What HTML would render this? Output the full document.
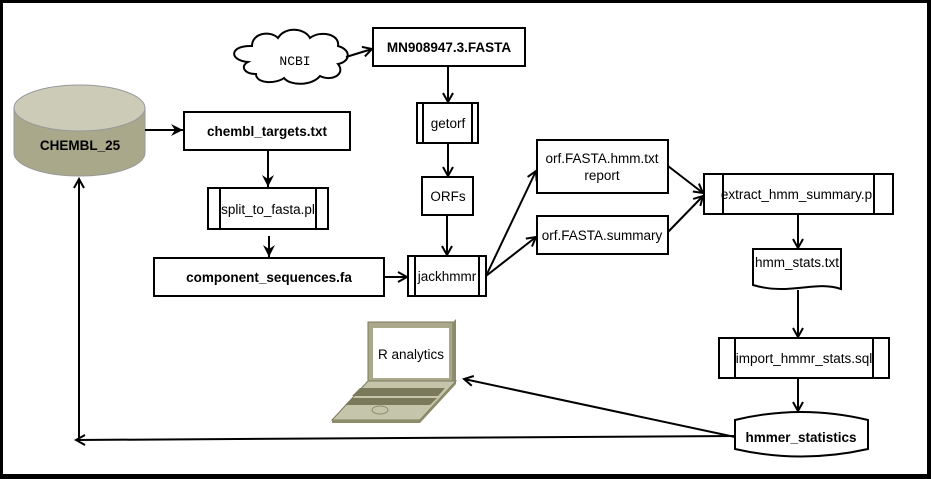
<!DOCTYPE html>
<html><head><meta charset="utf-8"><style>
html,body{margin:0;padding:0;background:#fff}
svg{display:block}
text{font-family:"Liberation Sans",sans-serif;font-size:13.5px;fill:#000}
.b{font-weight:bold;font-size:13.5px}
</style></head><body>
<svg width="931" height="479" viewBox="0 0 931 479" xmlns="http://www.w3.org/2000/svg">
<defs>
<marker id="a" markerWidth="12" markerHeight="12" refX="10" refY="6" orient="auto" markerUnits="userSpaceOnUse">
<path d="M1,1 L10,6 L1,11" fill="none" stroke="#000" stroke-width="2"/>
</marker>
<marker id="f" markerWidth="14" markerHeight="14" refX="12" refY="7" orient="auto" markerUnits="userSpaceOnUse">
<path d="M0,1 L12,7 L0,13 L4,7 Z" fill="#000"/>
</marker>
</defs>
<rect x="1.5" y="1.5" width="927" height="474" fill="#fff" stroke="#000" stroke-width="3"/>
<rect x="0" y="475" width="931" height="4" fill="#000"/>
<rect x="927" y="0" width="4" height="479" fill="#000"/>

<g fill="#fff" stroke="#000" stroke-width="2">
<path d="M248,62 C228,60 230,45 252,46 C252,33 270,30 278,38 C285,26 305,28 310,38 C320,30 340,34 338,46 C352,50 350,62 338,64 C346,74 332,82 320,76 C312,86 290,86 284,78 C276,84 256,84 256,74 C244,74 240,66 248,62 Z"/>
<rect x="373" y="28" width="152" height="38"/>
<rect x="417" y="103" width="61" height="40"/>
<rect x="422" y="177" width="51" height="38"/>
<rect x="408" y="256" width="78" height="40"/>
<rect x="184" y="112" width="166" height="38"/>
<rect x="208" y="188" width="120" height="41"/>
<rect x="154" y="258" width="230" height="38"/>
<rect x="537" y="140" width="131" height="53"/>
<rect x="537" y="216" width="131" height="38"/>
<rect x="704" y="174" width="189" height="40"/>
<path d="M753,249 H841 V289 C815,280 790,296 753,285 Z"/>
<rect x="719" y="338" width="170" height="40"/>
<path d="M735,420 Q801,404 868,420 V449 Q801,464 735,449 Z"/>
</g>
<g stroke="#000" stroke-width="2">
<line x1="423" y1="103" x2="423" y2="143"/><line x1="472" y1="103" x2="472" y2="143"/>
<line x1="415" y1="256" x2="415" y2="296"/><line x1="479" y1="256" x2="479" y2="296"/>
<line x1="220" y1="188" x2="220" y2="229"/><line x1="316" y1="188" x2="316" y2="229"/>
<line x1="723" y1="174" x2="723" y2="214"/><line x1="874" y1="174" x2="874" y2="214"/>
<line x1="735" y1="338" x2="735" y2="378"/><line x1="873" y1="338" x2="873" y2="378"/>
</g>

<path d="M14,108 V153 A65.5,23 0 0 0 145,153 V108 Z" fill="#a9a88a" stroke="#999" stroke-width="1"/>
<ellipse cx="79.5" cy="108" rx="65.5" ry="23" fill="#cbcbb8" stroke="#999" stroke-width="1"/>

<path d="M368,381 L456,381 L420,420 L332,420 Z" fill="#c5c5ac" stroke="#7a7a5a" stroke-width="1"/>
<path d="M332,420 L420,420 L420,423 L332,423 Z M420,420 L456,381 L456,384 L420,423 Z" fill="#8c8c6a"/>
<path d="M360,388 L445,388 L438,396 L352,396 Z M352,398 L437,398 L430,405 L345,405 Z" fill="#7a7a5a"/>
<ellipse cx="380" cy="410" rx="8" ry="4" fill="none" stroke="#8c8c6a"/>
<rect x="368" y="322" width="85" height="59" fill="#a9a88a" stroke="#7a7a5a"/>
<path d="M453,322 L456,319 L456,381 L453,381 Z" fill="#8c8c6a"/>
<rect x="373" y="328" width="76" height="50" fill="#fff"/>

<g stroke="#000" stroke-width="2" fill="none" marker-end="url(#a)">
<line x1="346" y1="57" x2="372" y2="49"/>
<line x1="448" y1="66" x2="448" y2="102"/>
<line x1="448" y1="143" x2="448" y2="176"/>
<line x1="447" y1="215" x2="447" y2="255"/>
<line x1="384" y1="277" x2="407" y2="277"/>
<line x1="486" y1="276" x2="536" y2="171"/>
<line x1="486" y1="276" x2="536" y2="237"/>
<line x1="668" y1="166" x2="703" y2="193"/>
<line x1="668" y1="232" x2="703" y2="196"/>
<line x1="798" y1="214" x2="798" y2="248"/>
<line x1="798" y1="290" x2="798" y2="337"/>
<line x1="798" y1="378" x2="798" y2="411"/>
<line x1="735" y1="437" x2="464" y2="379"/>
<line x1="735" y1="436" x2="76" y2="440"/>
<line x1="79" y1="440" x2="79" y2="179"/>
</g>
<g stroke="#000" stroke-width="2" fill="none" marker-end="url(#f)">
<line x1="145" y1="130" x2="183" y2="130"/>
<line x1="268" y1="150" x2="268" y2="187"/>
<line x1="269" y1="236" x2="269" y2="257"/>
</g>

<text x="295" y="65" text-anchor="middle" style="font-family:'Liberation Mono',monospace;font-size:13px">NCBI</text>
<text x="449" y="52" text-anchor="middle" class="b">MN908947.3.FASTA</text>
<text x="448" y="128" text-anchor="middle">getorf</text>
<text x="448" y="201" text-anchor="middle">ORFs</text>
<text x="447" y="281" text-anchor="middle">jackhmmr</text>
<text x="80" y="150" text-anchor="middle" class="b">CHEMBL_25</text>
<text x="267" y="136" text-anchor="middle" class="b">chembl_targets.txt</text>
<text x="268" y="214" text-anchor="middle">split_to_fasta.pl</text>
<text x="269" y="282" text-anchor="middle" class="b">component_sequences.fa</text>
<text x="602" y="163" text-anchor="middle">orf.FASTA.hmm.txt</text>
<text x="602" y="180" text-anchor="middle">report</text>
<text x="602" y="240" text-anchor="middle">orf.FASTA.summary</text>
<text x="798" y="199" text-anchor="middle">extract_hmm_summary.pl</text>
<text x="797" y="267" text-anchor="middle">hmm_stats.txt</text>
<text x="804" y="363" text-anchor="middle">import_hmmr_stats.sql</text>
<text x="801" y="442" text-anchor="middle" class="b">hmmer_statistics</text>
<text x="411" y="359" text-anchor="middle">R analytics</text>
</svg>
</body></html>
